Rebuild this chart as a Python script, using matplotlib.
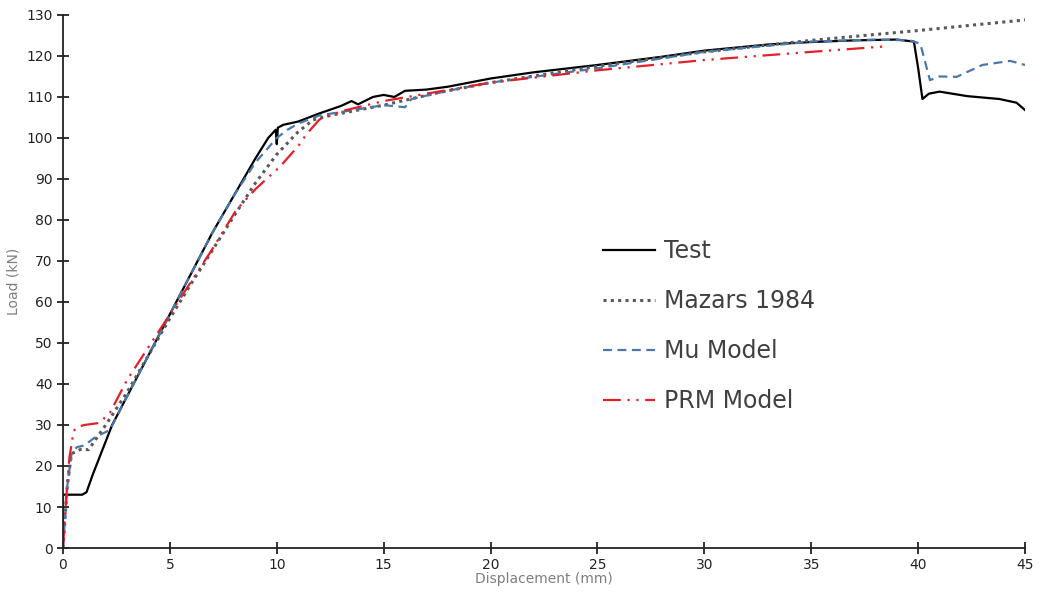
import matplotlib
matplotlib.use("Agg")
from matplotlib import pyplot as plt

test_x = [0, 0, 0.3, 0.9, 1.1, 1.4, 1.7, 2.0, 2.3, 3.0, 4.0, 5.0, 6.0, 7.0, 8.0, 9.0, 9.6, 9.95,
          10.0, 10.05, 10.3, 11.0, 12.0, 13.0, 13.5, 13.8, 14.5, 15.0, 15.5, 16.0, 17.0, 18.0, 20.0,
          22.0, 25.0, 28.0, 30.0, 33.0, 35.0, 37.0, 39.0, 39.8, 40.0, 40.2, 40.5, 41.0, 42.3, 43.8,
          44.6, 45.0]
test_y = [0, 13, 13, 13, 13.6, 18, 22, 26, 30, 37, 47, 57, 67, 77, 86, 95, 100, 102,
          98.5, 102.5, 103.2, 104, 106, 107.8, 109, 108.2, 110, 110.5, 110, 111.5, 111.8, 112.5, 114.5,
          116, 117.8, 119.8, 121.3, 122.8, 123.4, 123.8, 124, 123.5, 117, 109.5, 110.8, 111.3, 110.2, 109.5,
          108.6, 106.8]

mazars_x = [0, 0.2, 0.4, 0.8, 1.2, 2.0, 3.0, 4.0, 5.0, 6.0, 7.0, 8.0, 9.0, 10.0, 11.0, 11.7, 12.5,
            13.5, 15.0, 17.5, 20.0, 25.0, 30.0, 35.0, 40.0, 45.0]
mazars_y = [0, 15, 23, 24, 24, 30, 38, 47, 56, 64.5, 72.7, 81, 89, 96, 101.5, 104.4, 105.5,
            106.5, 108, 111, 113.5, 117.5, 121, 123.8, 126.2, 128.8]

mu_x = [0, 0.2, 0.4, 0.65, 1.0, 1.5, 2.2, 3.0, 4.0, 5.0, 6.0, 7.0, 8.0, 9.0, 10.0, 10.5, 11.0,
        12.0, 15.0, 16.0, 16.3, 18.0, 20.0, 25.0, 30.0, 35.0, 38.0, 39.6, 40.1, 40.55, 41.0, 41.8,
        43.0, 44.3, 45.0]
mu_y = [0, 15, 23, 24.6, 25, 27, 28.8, 37, 47, 57, 67, 77, 86, 94, 100, 102, 103.5,
        105.5, 108, 107.5, 109.5, 111.5, 113.5, 117, 121, 123.5, 124, 123.8, 123, 114.1, 115, 114.9,
        117.8, 118.8, 117.8]

prm_x = [0, 0.15, 0.3, 0.5, 0.65, 1.0, 1.7, 2.2, 3.0, 4.0, 5.0, 6.0, 7.0, 8.1, 9.0, 10.15, 11.0,
         11.4, 12.0, 13.0, 15.0, 20.0, 25.0, 30.0, 35.0, 38.4]
prm_y = [0, 12, 22, 28.5, 29.5, 30, 30.5, 33, 41, 49, 57, 65, 73, 82.4, 87.5, 93, 98,
         101, 104.5, 106.5, 109, 113.5, 116.5, 119, 121, 122.3]

fig = plt.figure(figsize=(10.39, 6.03), dpi=100)
ax = fig.add_axes([0.0606, 0.0912, 0.926, 0.884])

ax.plot(test_x, test_y, color="black", lw=1.6, label="Test")
ax.plot(mazars_x, mazars_y, color="#595959", lw=2.2, ls=(0, (1, 1.4)), label="Mazars 1984")
ax.plot(mu_x, mu_y, color="#4a78a8", lw=1.6, ls=(0, (4, 2.5)), label="Mu Model")
ax.plot(prm_x, prm_y, color="#e0202a", lw=1.6, ls=(0, (8, 3, 1, 3, 1, 3)), label="PRM Model")

ax.set_xlim(0, 45)
ax.set_ylim(0, 130)
ax.set_xticks(range(0, 46, 5))
ax.set_yticks(range(0, 131, 10))
for s in ["top", "right"]:
    ax.spines[s].set_visible(False)
for s in ["left", "bottom"]:
    ax.spines[s].set_color("#222222")
    ax.spines[s].set_linewidth(1.3)
ax.tick_params(direction="inout", length=8, width=1.3, labelsize=10, color="#222222", labelcolor="#222222")

ax.set_xlabel("Displacement (mm)", color="#7f7f7f", fontsize=10, labelpad=0)
ax.set_ylabel("Load (kN)", color="#7f7f7f", fontsize=10, labelpad=4)

leg = ax.legend(loc="upper left", bbox_to_anchor=(0.539, 0.619), frameon=False, fontsize=17,
                handlelength=2.2, labelspacing=1.1, handletextpad=0.4)
for t in leg.get_texts():
    t.set_color("#404040")

fig.savefig("out.png", dpi=100)
